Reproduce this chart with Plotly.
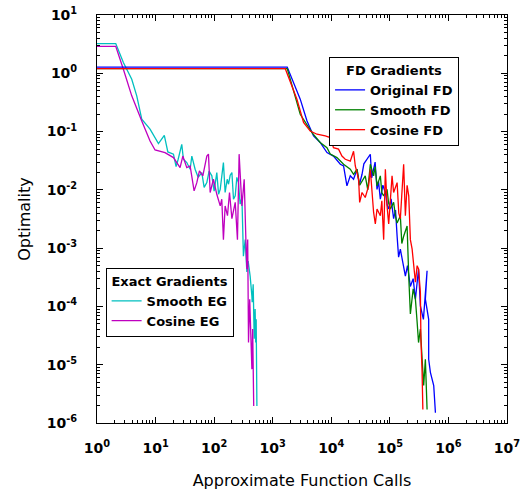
import plotly.graph_objects as go

# ---------------- FD Gradients ----------------
orig_fd_x = [1, 1770, 2950, 3850, 4980, 6460, 8440, 10900, 14260, 16200, 18500, 21100, 24000,
             27500, 30000, 33500, 36000, 40800, 46400, 49000, 52800, 56000, 60400, 64000, 68800,
             76000, 83800, 90000, 95500, 105000, 116000, 125000, 133000, 141000, 151000, 165000,
             184000, 200000, 224000, 250000, 273000, 309000, 332000, 374000, 432000, 404000,
             460000, 460000, 492000, 561000, 600000]
orig_fd_y = [1.28, 1.28, 0.36, 0.152, 0.084, 0.065, 0.0436, 0.038, 0.0275, 0.0257, 0.0117, 0.0174,
             0.0152, 0.0226, 0.012, 0.0185, 0.028, 0.0335, 0.0408, 0.016, 0.0241, 0.03, 0.0102,
             0.014, 0.0069, 0.012, 0.009, 0.0055, 0.0047, 0.007, 0.0032, 0.0045, 0.0016, 7.0e-4,
             9.6e-4, 6.0e-4, 3.3e-4, 5.0e-4, 2.2e-4, 3.0e-4, 1.33e-4, 4.4e-4, 1.02e-4, 6.0e-5,
             4.1e-4, 1.33e-4, 6.0e-5, 1.24e-5, 7.4e-6, 4.4e-6, 1.5e-6]

smooth_fd_x = [1, 1770, 2950, 4680, 6460, 8440, 9610, 12500, 16200, 21100, 24000, 27500, 30500,
               33500, 38000, 42000, 46400, 52800, 56000, 60400, 68800, 73000, 78400, 89600, 95000,
               102000, 116000, 125000, 133000, 151000, 160000, 172000, 197000, 210000, 224000,
               250000, 273000, 292000, 309000, 332000, 355000, 378000, 404000, 432000]
smooth_fd_y = [1.2, 1.2, 0.198, 0.096, 0.065, 0.053, 0.041, 0.0358, 0.0275, 0.0226, 0.0185, 0.0226,
               0.012, 0.0142, 0.0174, 0.01, 0.0275, 0.0174, 0.025, 0.0117, 0.0174, 0.009, 0.0079,
               0.0102, 0.006, 0.0047, 0.0061, 0.0035, 0.0027, 0.0036, 0.0012, 0.0016, 0.0024,
               3.3e-4, 7.4e-5, 2.0e-4, 1.33e-4, 5.4e-5, 2.4e-5, 4.1e-5, 9.5e-6, 4.4e-6, 1.24e-5,
               1.7e-6]

cosine_fd_x = [1, 1640, 2590, 3360, 4370, 5700, 7890, 9610, 10900, 13300, 15200, 17340, 21100,
               24000, 25700, 29300, 30500, 33500, 38000, 43400, 46400, 52800, 56500, 60400, 68800,
               73000, 78400, 83800, 90000, 95500, 109000, 116000, 133000, 142000, 151000, 172000,
               184000, 197000, 210000, 224000, 240000, 273000, 292000, 309000, 332000, 339000,
               355000, 366000]
cosine_fd_y = [1.2, 1.2, 0.358, 0.143, 0.102, 0.09, 0.084, 0.079, 0.053, 0.05, 0.038, 0.0335, 0.031,
               0.046, 0.0257, 0.0152, 0.0061, 0.009, 0.0074, 0.0117, 0.0226, 0.0041, 0.0026, 0.0047,
               0.0036, 0.0065, 0.0014, 0.0226, 0.005, 0.0026, 0.0174, 0.009, 0.0133, 0.004, 0.0032,
               0.0275, 0.0036, 0.012, 0.0079, 0.0014, 9.6e-4, 2.6e-4, 5.0e-4, 4.4e-4, 1.75e-4,
               2.8e-5, 7.4e-6, 1.7e-6]

# ---------------- Exact Gradients ----------------
smooth_eg_x = [1, 2.09, 2.82, 3.92, 4.77, 5.81, 8.05, 11.2, 14.1, 16.2, 20.2, 22.4, 24.3, 28, 29.9,
               34.1, 38.9, 41.6, 47.3, 53.3, 61.6, 67.5, 75, 82, 91.3, 100, 111, 119, 127, 137,
               144, 154, 167, 176, 188, 201, 214, 229, 244, 260, 278, 298, 316, 339, 362, 381,
               412, 441, 446, 464, 483, 501, 512, 522, 537]
smooth_eg_y = [3.23, 3.23, 1.53, 0.79, 0.41, 0.163, 0.11, 0.062, 0.086, 0.0447, 0.041, 0.025, 0.0335,
               0.0605, 0.0335, 0.0294, 0.0226, 0.038, 0.0226, 0.0164, 0.0198, 0.011, 0.0133,
               0.0209, 0.0174, 0.0095, 0.0198, 0.0084, 0.0102, 0.0185, 0.0294, 0.009, 0.0152,
               0.0125, 0.0178, 0.0198, 0.0069, 0.0079, 0.0164, 0.0133, 0.0057, 0.0074, 7.3e-4,
               0.0014, 3.9e-4, 6.0e-4, 3.3e-4, 1.5e-4, 1.18e-4, 2.4e-4, 2.8e-5, 9.0e-5, 2.4e-5,
               6.0e-5, 1.96e-6]

cosine_eg_x = [1, 2.09, 2.82, 3.92, 5.81, 8.05, 9.8, 14.5, 20.2, 26.2, 29.2, 34.1, 38.9, 45.5, 50.6,
               56.1, 64.1, 75, 80, 85.5, 97.2, 111, 127, 135, 144, 154, 169, 183, 201, 215, 229,
               250, 267, 298, 326, 352, 362, 374, 386, 405, 441, 455, 470, 474]
cosine_eg_y = [2.9, 2.9, 1.17, 0.41, 0.152, 0.069, 0.0483, 0.0436, 0.0358, 0.0241, 0.038, 0.0241,
               0.0257, 0.0096, 0.0133, 0.0211, 0.0174, 0.038, 0.041, 0.009, 0.0152, 0.0084, 0.0053,
               0.0069, 0.0014, 0.0053, 0.0036, 0.009, 0.0032, 0.0047, 0.0061, 0.0014, 0.041,
               0.0053, 0.0152, 9.6e-4, 4.4e-4, 0.0014, 2.4e-5, 1.33e-4, 8.4e-6, 4.1e-5, 2.9e-6,
               1.96e-6]

# tick labels
x_exponents = [0, 1, 2, 3, 4, 5, 6, 7]
y_exponents = [-6, -5, -4, -3, -2, -1, 0, 1]

FONT = "DejaVu Sans"


def decade_ticks(exps):
    vals = [10.0 ** e for e in exps]
    text = ["10<sup>%d</sup>" % e for e in exps]
    minors = [k * 10.0 ** e for e in exps[:-1] for k in range(2, 10)]
    return vals, text, minors


xv, xt, xm = decade_ticks(x_exponents)
yv, yt, ym = decade_ticks(y_exponents)

fig = go.Figure()
fig.add_trace(go.Scatter(x=smooth_eg_x, y=smooth_eg_y, mode="lines", name="Smooth EG",
                         line=dict(color="#00BFBF", width=1.3), legend="legend2"))
fig.add_trace(go.Scatter(x=cosine_eg_x, y=cosine_eg_y, mode="lines", name="Cosine EG",
                         line=dict(color="#BF00BF", width=1.3), legend="legend2"))
fig.add_trace(go.Scatter(x=orig_fd_x, y=orig_fd_y, mode="lines", name="Original FD",
                         line=dict(color="#0000FF", width=1.3), legend="legend"))
fig.add_trace(go.Scatter(x=smooth_fd_x, y=smooth_fd_y, mode="lines", name="Smooth FD",
                         line=dict(color="#008000", width=1.3), legend="legend"))
fig.add_trace(go.Scatter(x=cosine_fd_x, y=cosine_fd_y, mode="lines", name="Cosine FD",
                         line=dict(color="#FF0000", width=1.3), legend="legend"))

axis_common = dict(
    type="log", showgrid=False, zeroline=False, automargin=False,
    showline=True, linecolor="black", linewidth=1, mirror="allticks",
    ticks="inside", ticklen=6, tickcolor="black", tickwidth=1,
    tickfont=dict(family=FONT, size=14, color="black", weight="bold"),
)

fig.update_xaxes(axis_common, range=[0, 7], tickmode="array", tickvals=xv, ticktext=xt,
                 minor=dict(tickmode="array", tickvals=xm, ticks="inside", ticklen=3,
                            tickcolor="black", showgrid=False),
                 ticklabelstandoff=12,
                 title=dict(text="Approximate Function Calls", standoff=20,
                            font=dict(family=FONT, size=16, color="black")))
fig.update_yaxes(axis_common, range=[-6, 1], tickmode="array", tickvals=yv, ticktext=yt,
                 minor=dict(tickmode="array", tickvals=ym, ticks="inside", ticklen=3,
                            tickcolor="black", showgrid=False),
                 ticklabelstandoff=16,
                 title=dict(text="Optimality", standoff=12,
                            font=dict(family=FONT, size=16, color="black")))

legend_common = dict(
    bgcolor="white", bordercolor="black", borderwidth=1,
    font=dict(family=FONT, size=13, color="black", weight="bold"),
    xanchor="left", yanchor="top", itemwidth=30, tracegroupgap=0,
)
fig.update_layout(
    width=525, height=490,
    margin=dict(l=97, r=18, t=15, b=67, autoexpand=False),
    plot_bgcolor="white", paper_bgcolor="white",
    legend=dict(legend_common, x=0.566, y=0.897,
                title=dict(text="FD Gradients", side="top center",
                           font=dict(family=FONT, size=13, color="black", weight="bold"))),
    legend2=dict(legend_common, x=0.021, y=0.38,
                 title=dict(text="Exact Gradients", side="top center",
                            font=dict(family=FONT, size=13, color="black", weight="bold"))),
)

fig.write_html("out.html")
